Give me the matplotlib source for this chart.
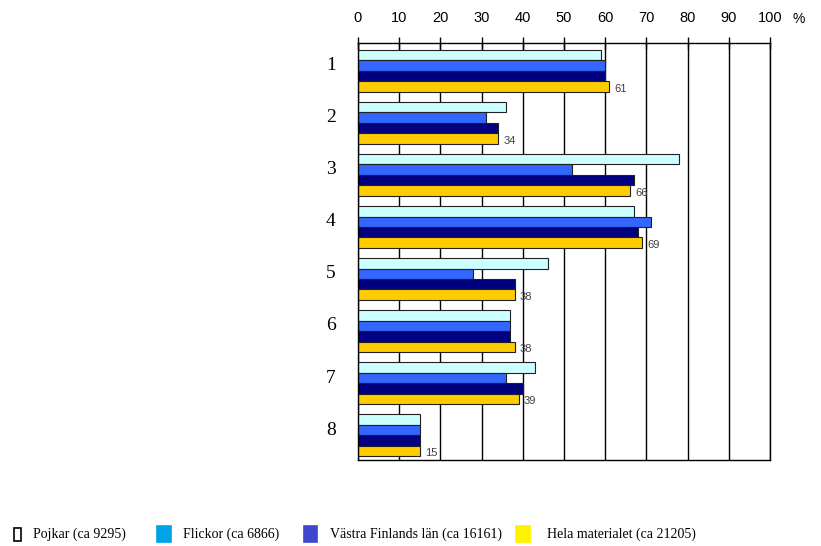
import numpy as np
import matplotlib.pyplot as plt
import matplotlib.transforms as mtransforms
from matplotlib.patches import Rectangle

# Andel (%) per fråga och grupp
questions = ["1", "2", "3", "4", "5", "6", "7", "8"]
pojkar = [59, 36, 78, 67, 46, 37, 43, 15]
flickor = [60, 31, 52, 71, 28, 37, 36, 15]
vastra_finland = [60, 34, 67, 68, 38, 37, 40, 15]
hela_materialet = [61, 34, 66, 69, 38, 38, 39, 15]

series = [pojkar, flickor, vastra_finland, hela_materialet]
bar_colors = ["#CCFFFF", "#3366FF", "#000080", "#FFCC00"]

legend_labels = ["Pojkar (ca 9295)", "Flickor (ca 6866)",
                 "Västra Finlands län (ca 16161)", "Hela materialet (ca 21205)"]
legend_colors = ["white", "#00A2E8", "#3F48CC", "#FFF200"]

W, H = 821, 546
fig = plt.figure(figsize=(W / 100, H / 100), dpi=100)
ax = fig.add_axes([0.436, 0.158, 0.502, 0.763])

y = np.arange(len(questions))
h = 0.2
for i, (vals, col) in enumerate(zip(series, bar_colors)):
    ax.barh(y - 0.37 + h * i + h / 2, vals, height=h, color=col,
            edgecolor="#202020", linewidth=0.8, zorder=3)

# värdetext efter den gula stapeln
for yi, v in zip(y, hela_materialet):
    ax.text(v + 1.3, yi - 0.37 + 3.5 * h + 0.05, str(v), fontsize=8,
            color="#404040", va="center", ha="left",
            family="Liberation Sans", zorder=4)

ax.set_xlim(0, 100)
ax.set_ylim(7.5, -0.5)
ax.set_xticks(range(0, 101, 10))
ax.xaxis.tick_top()
ax.tick_params(axis="x", direction="inout", length=8, width=1, pad=9,
               labelsize=10.5, colors="black")
for lbl in ax.get_xticklabels():
    lbl.set_family("Liberation Sans")
ax.set_yticks(y)
ax.set_yticklabels(questions, family="Liberation Serif", fontsize=14)
ax.tick_params(axis="y", length=0, pad=16)
shift = mtransforms.ScaledTranslation(0, 4 / 72, fig.dpi_scale_trans)
for lbl in ax.get_yticklabels():
    lbl.set_transform(lbl.get_transform() + shift)

ax.grid(axis="x", color="black", linewidth=1, zorder=1)
for s in ax.spines.values():
    s.set_color("black")
    s.set_linewidth(1)
    s.set_zorder(5)

fig.text(0.965, 0.965, "%", fontsize=10, family="Liberation Sans", va="center")

# förklaring längst ner (pixelpositioner)
box_x = [14, 157, 304, 516]
box_w = [7, 14, 13, 14]
box_h = [13, 16, 16, 16]
text_x = [33, 183, 330, 547]
for bx, bw, bh, tx, lab, col in zip(box_x, box_w, box_h, text_x,
                                    legend_labels, legend_colors):
    fig.patches.append(Rectangle((bx / W, 1 - (534 + bh / 2) / H), bw / W, bh / H,
                                 facecolor=col,
                                 edgecolor="black" if col == "white" else col,
                                 linewidth=1.2, transform=fig.transFigure))
    fig.text(tx / W, 1 - 534 / H, lab, fontsize=10,
             family="Liberation Serif", va="center")

fig.savefig("out.png", dpi=100)
